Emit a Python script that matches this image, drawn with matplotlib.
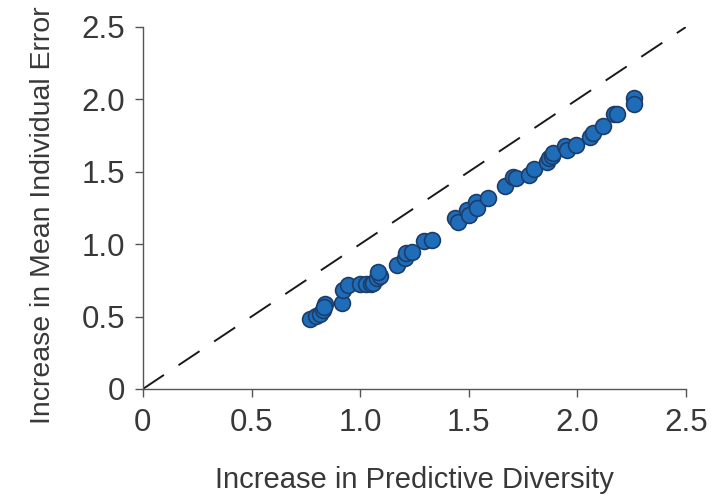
import matplotlib
matplotlib.use("Agg")
import matplotlib.pyplot as plt
from matplotlib.ticker import FuncFormatter

plt.rcParams['font.family'] = ['Liberation Sans', 'DejaVu Sans']

diversity = [0.769, 0.797, 0.815, 0.829, 0.838, 0.833, 0.916, 0.921, 0.944, 0.999,
             1.027, 1.050, 1.059, 1.077, 1.091, 1.082, 1.169, 1.206, 1.211, 1.238,
             1.294, 1.331, 1.436, 1.450, 1.492, 1.501, 1.533, 1.538, 1.588, 1.667,
             1.703, 1.717, 1.777, 1.800, 1.860, 1.869, 1.883, 1.888, 1.943, 1.952,
             1.994, 2.058, 2.072, 2.118, 2.169, 2.182, 2.261, 2.261]
error = [0.483, 0.503, 0.517, 0.545, 0.586, 0.566, 0.593, 0.683, 0.717, 0.724,
         0.724, 0.724, 0.731, 0.766, 0.779, 0.807, 0.855, 0.903, 0.938, 0.945,
         1.021, 1.028, 1.179, 1.152, 1.234, 1.200, 1.290, 1.248, 1.317, 1.400,
         1.462, 1.455, 1.476, 1.517, 1.566, 1.593, 1.607, 1.628, 1.676, 1.648,
         1.683, 1.738, 1.766, 1.814, 1.897, 1.897, 2.007, 1.966]
ticks = [0, 0.5, 1.0, 1.5, 2.0, 2.5]

fig = plt.figure(figsize=(7.11, 4.98), dpi=100)
ax = fig.add_axes([0.201, 0.219, 0.764, 0.727])

ax.plot([0, 2.5], [0, 2.5], color='#1a1a1a', lw=1.4, dashes=(13, 9), zorder=1)
ax.scatter(diversity, error, s=130, c='#1f6db8', edgecolors='#1c3d6b',
           linewidths=1.2, zorder=3, clip_on=False)

ax.set_xlim(0, 2.5)
ax.set_ylim(0, 2.5)
ax.set_xticks(ticks)
ax.set_yticks(ticks)
fmt = FuncFormatter(lambda v, p: '0' if abs(v) < 1e-9 else f'{v:.1f}')
ax.xaxis.set_major_formatter(fmt)
ax.yaxis.set_major_formatter(fmt)

for s in ['top', 'right']:
    ax.spines[s].set_visible(False)
for s in ['left', 'bottom']:
    ax.spines[s].set_color('#555555')
    ax.spines[s].set_linewidth(1.0)

ax.tick_params(axis='both', direction='out', length=6, width=1.0, color='#555555',
               labelsize=22.5, labelcolor='#383838')
ax.tick_params(axis='x', pad=8)
ax.tick_params(axis='y', pad=7)

ax.set_xlabel('Increase in Predictive Diversity', fontsize=21, color='#383838', labelpad=20)
ax.set_ylabel('Increase in Mean Individual Error', fontsize=20.5, color='#383838', labelpad=28)
ax.yaxis.set_label_coords(-0.16, 0.48)

fig.savefig('out.png', dpi=100)
